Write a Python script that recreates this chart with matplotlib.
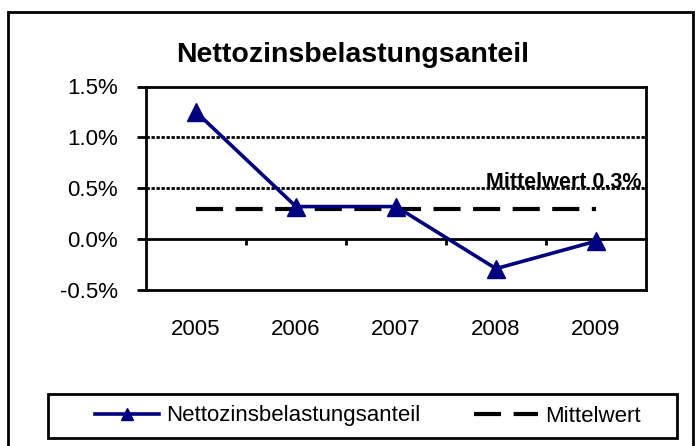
#!/usr/bin/env python3
"""Nettozinsbelastungsanteil 2005-2009 with its mean line, drawn in the style of an Excel chart."""

import matplotlib

matplotlib.use("Agg")
import matplotlib.pyplot as plt
from matplotlib.patches import Rectangle

plt.rcParams["font.family"] = ["Liberation Sans", "DejaVu Sans"]

jahre = ["2005", "2006", "2007", "2008", "2009"]
anteil = [1.25, 0.32, 0.32, -0.29, -0.02]  # percent
mittelwert = 0.3  # percent
titel = "Nettozinsbelastungsanteil"
y_ticks = [-0.5, 0.0, 0.5, 1.0, 1.5]

W, H = 697, 446
NAVY = "#000080"

fig = plt.figure(figsize=(W / 100, H / 100), dpi=100)
ax = fig.add_axes([146 / W, 1 - 290 / H, 500 / W, (290 - 86.5) / H])

pos = list(range(1, len(jahre) + 1))
ymin, ymax = y_ticks[0], y_ticks[-1]

# grid lines (the top one coincides with the frame)
for v in y_ticks[2:-1]:
    ax.axhline(v, color="black", linewidth=2, linestyle=(0, (1.2, 0.6)), zorder=1)

ax.plot(pos, [mittelwert] * len(pos), color="black", linewidth=3,
        linestyle=(0, (6.5, 3)), label="Mittelwert", zorder=2)
ax.plot(pos, anteil, color=NAVY, linewidth=2.6, marker="^", markersize=13,
        label="Nettozinsbelastungsanteil", zorder=3)

ax.set_xlim(0.5, len(jahre) + 0.5)
ax.set_ylim(ymin, ymax)
ax.set_yticks(y_ticks)
ax.set_yticklabels([f"{v:.1f}%" for v in y_ticks])
ax.set_xticks(pos)
ax.set_xticklabels(jahre)
ax.tick_params(axis="y", direction="out", length=6.5, width=2, pad=13.5, labelsize=16)
ax.tick_params(axis="x", length=0, pad=21, labelsize=16)
for s in ax.spines.values():
    s.set_linewidth(2)

# category axis crosses at 0 with tick marks between categories
sec = ax.secondary_xaxis((0 - ymin) / (ymax - ymin))
sec.set_xticks([p + 0.5 for p in pos[:-1]])
sec.set_xticklabels([])
sec.tick_params(direction="out", length=4, width=2)
sec.spines["bottom"].set_linewidth(2)

ax.text(0.99, mittelwert + 0.2, f"Mittelwert {mittelwert:.1f}%",
        transform=ax.get_yaxis_transform(), ha="right", va="baseline",
        fontsize=15.5, fontweight="bold")

fig.text(353 / W, 1 - 62 / H, titel, ha="center", va="baseline",
         fontsize=20.5, fontweight="bold")

handles, labels = ax.get_legend_handles_labels()
fig.legend(handles[::-1], labels[::-1], loc="center left",
           bbox_to_anchor=(95 / W, 1 - 416 / H), ncol=2, frameon=False,
           fontsize=16, borderpad=0, borderaxespad=0, handlelength=2.9,
           handletextpad=0.3, columnspacing=2.4, markerscale=0.7)

fig.add_artist(Rectangle((48 / W, 1 - 438 / H), (677 - 48) / W, 44 / H,
                         transform=fig.transFigure, fill=False,
                         edgecolor="black", linewidth=2))
fig.add_artist(Rectangle((8 / W, -0.05), (693 - 8) / W, 1 - 12 / H + 0.05,
                         transform=fig.transFigure, fill=False,
                         edgecolor="black", linewidth=2))

fig.savefig("out.png", dpi=100)
